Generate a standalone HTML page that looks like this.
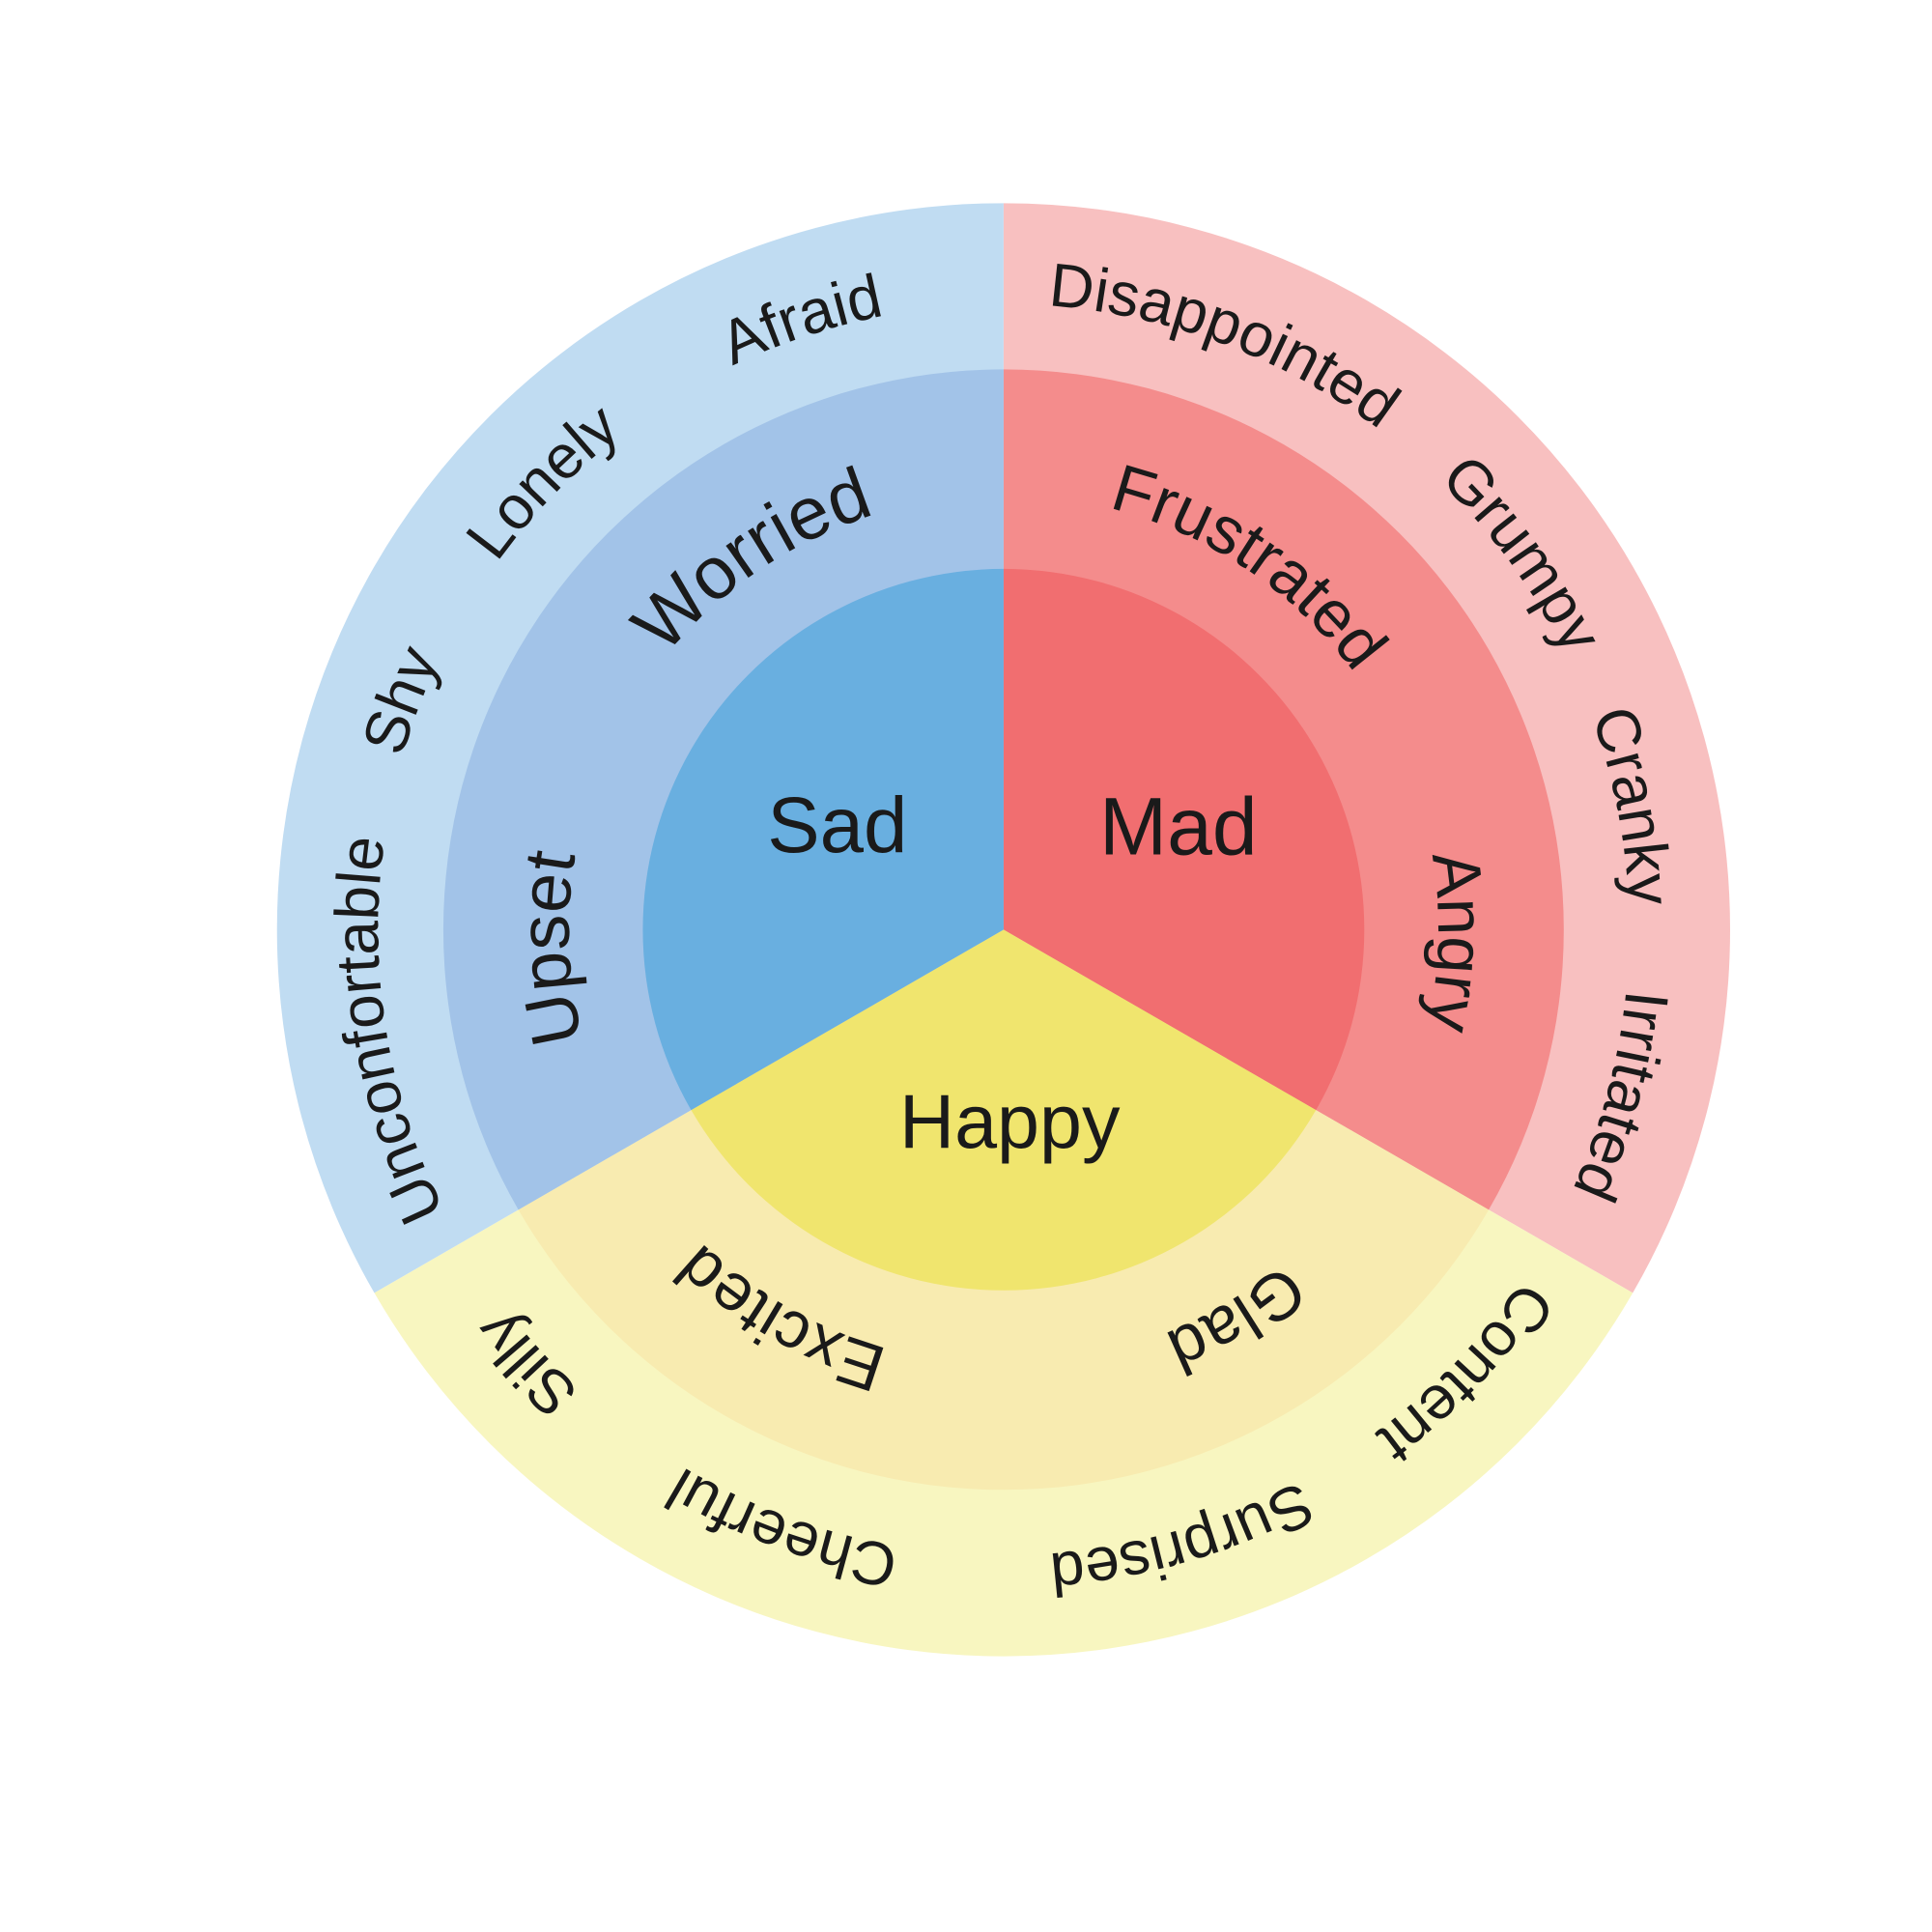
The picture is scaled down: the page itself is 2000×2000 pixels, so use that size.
<!DOCTYPE html>
<html><head><meta charset="utf-8"><style>
html,body{margin:0;padding:0;background:#fff;}
svg{display:block;}
text{font-family:"Liberation Sans",sans-serif;fill:#1a1a1a;}
</style></head><body>
<svg width="2000" height="2000" viewBox="0 0 1569 1569" xmlns="http://www.w3.org/2000/svg">
<defs>
<path id="ro" d="M307,755 A508,508 0 0 1 1323,755"/>
<path id="rm" d="M462,755 A353,353 0 0 1 1168,755"/>
</defs>
<path d="M815,755 L815,165 A590,590 0 0 1 1326,1050 Z" fill="#f8c0c0"/>
<path d="M815,755 L1326,1050 A590,590 0 0 1 304,1050 Z" fill="#f8f6c0"/>
<path d="M815,755 L304,1050 A590,590 0 0 1 815,165 Z" fill="#c0dcf2"/>
<path d="M815,755 L815,300 A455,455 0 0 1 1209,982.5 Z" fill="#f48c8c"/>
<path d="M815,755 L1209,982.5 A455,455 0 0 1 421,982.5 Z" fill="#f8ebb0"/>
<path d="M815,755 L421,982.5 A455,455 0 0 1 815,300 Z" fill="#a2c3e8"/>
<path d="M815,755 L815,462 A293,293 0 0 1 1068.7,901.5 Z" fill="#f16e70"/>
<path d="M815,755 L1068.7,901.5 A293,293 0 0 1 561.3,901.5 Z" fill="#f0e56e"/>
<path d="M815,755 L561.3,901.5 A293,293 0 0 1 815,462 Z" fill="#69afe0"/>

<text x="680" y="692" font-size="64" text-anchor="middle">Sad</text>
<text x="957" y="694" font-size="66" text-anchor="middle">Mad</text>
<text x="820" y="932" font-size="62" text-anchor="middle">Happy</text>

<g font-size="50">
<g transform="rotate(-18.3 815 755)"><text text-anchor="middle"><textPath href="#ro" startOffset="50%">Afraid</textPath></text></g>
<g transform="rotate(-45.8 815 755)"><text text-anchor="middle"><textPath href="#ro" startOffset="50%">Lonely</textPath></text></g>
<g transform="rotate(-69.2 815 755)"><text text-anchor="middle"><textPath href="#ro" startOffset="50%">Shy</textPath></text></g>
<g transform="rotate(-99.2 815 755)"><text text-anchor="middle"><textPath href="#ro" startOffset="50%">Unconfortable</textPath></text></g>
<g transform="rotate(-132.3 815 755)"><text text-anchor="middle"><textPath href="#ro" startOffset="50%">Silly</textPath></text></g>
<g transform="rotate(-159.8 815 755)"><text text-anchor="middle"><textPath href="#ro" startOffset="50%">Cheerful</textPath></text></g>
<g transform="rotate(163.8 815 755)"><text text-anchor="middle"><textPath href="#ro" startOffset="50%">Surprised</textPath></text></g>
<g transform="rotate(133.8 815 755)"><text text-anchor="middle"><textPath href="#ro" startOffset="50%">Content</textPath></text></g>
<g transform="rotate(105 815 755)"><text text-anchor="middle"><textPath href="#ro" startOffset="50%">Irritated</textPath></text></g>
<g transform="rotate(78.9 815 755)"><text text-anchor="middle"><textPath href="#ro" startOffset="50%">Cranky</textPath></text></g>
<g transform="rotate(54.1 815 755)"><text text-anchor="middle"><textPath href="#ro" startOffset="50%">Grumpy</textPath></text></g>
<g transform="rotate(20.5 815 755)"><text text-anchor="middle"><textPath href="#ro" startOffset="50%">Disappointed</textPath></text></g>
</g>

<g font-size="54">
<g transform="rotate(-34.1 815 755)"><text text-anchor="middle" font-size="60"><textPath href="#rm" startOffset="50%">Worried</textPath></text></g>
<g transform="rotate(-92.4 815 755)"><text text-anchor="middle" font-size="58"><textPath href="#rm" startOffset="50%">Upset</textPath></text></g>
<g transform="rotate(-150.3 815 755)"><text text-anchor="middle"><textPath href="#rm" startOffset="50%">Excited</textPath></text></g>
<g transform="rotate(149.2 815 755)"><text text-anchor="middle"><textPath href="#rm" startOffset="50%">Glad</textPath></text></g>
<g transform="rotate(91.5 815 755)"><text text-anchor="middle"><textPath href="#rm" startOffset="50%">Angry</textPath></text></g>
<g transform="rotate(33.9 815 755)"><text text-anchor="middle"><textPath href="#rm" startOffset="50%">Frustrated</textPath></text></g>
</g>
</svg>
</body></html>
